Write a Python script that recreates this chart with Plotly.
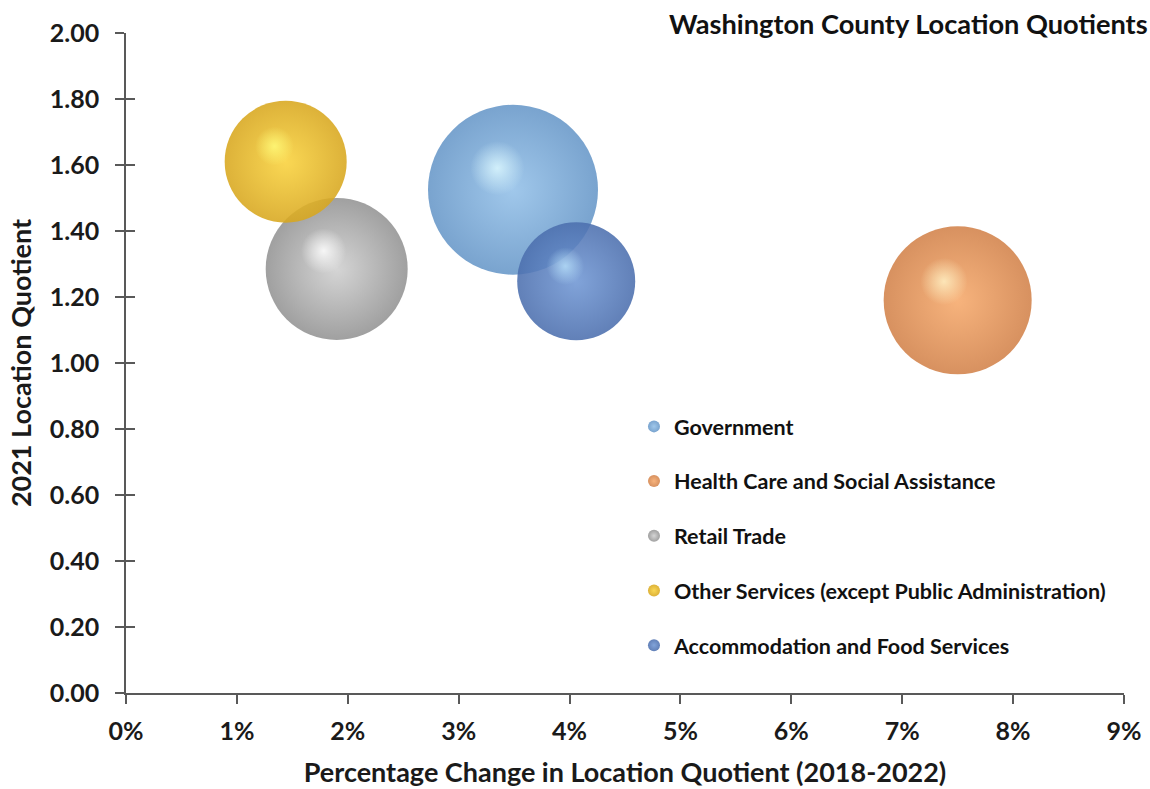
import plotly.graph_objects as go

industries = ["Government", "Health Care and Social Assistance", "Retail Trade",
              "Other Services (except Public Administration)", "Accommodation and Food Services"]
pct_change = [0.0349, 0.0750, 0.0190, 0.0144, 0.0406]
lq_2021 = [1.525, 1.19, 1.285, 1.61, 1.248]
bubble_size = [7225, 5476, 5041, 3721, 3481]

base_colors = ["#93c0e8", "#f6a96b", "#cfcfcf", "#f9d23c", "#7097d4"]
edge_colors = ["#6797c8", "#d2824a", "#939393", "#d8a71e", "#4c6fae"]
highlight_rgb = ["220,248,255", "255,240,195", "255,255,255", "255,250,120", "180,220,248"]

y_ticks = [0, 0.2, 0.4, 0.6, 0.8, 1.0, 1.2, 1.4, 1.6, 1.8, 2.0]
x_ticks = [0, 0.01, 0.02, 0.03, 0.04, 0.05, 0.06, 0.07, 0.08, 0.09]
x_range = [0, 0.09]
y_range = [0, 2.0]

FONT = "Lato"
W, H = 1150, 789
M = dict(l=126, r=26, t=33, b=96)
plot_w = W - M["l"] - M["r"]
plot_h = H - M["t"] - M["b"]
px_per_x = plot_w / (x_range[1] - x_range[0])
px_per_y = plot_h / (y_range[1] - y_range[0])

max_diam = 170
sizeref = 2.0 * max(bubble_size) / (max_diam ** 2)

fig = go.Figure()
for i, name in enumerate(industries):
    diam = (bubble_size[i] / sizeref) ** 0.5
    # base ball
    fig.add_trace(go.Scatter(
        x=[pct_change[i]], y=[lq_2021[i]], mode="markers", name="<b>" + name + "</b>",
        legendgroup=name,
        marker=dict(size=[bubble_size[i]], sizemode="area", sizeref=sizeref,
                    color=edge_colors[i], opacity=0.88,
                    gradient=dict(type="radial", color=base_colors[i]),
                    line=dict(width=0)),
    ))
    # specular highlight (offset up-left, derived from bubble diameter)
    hx = pct_change[i] - 0.13 * diam / px_per_x
    hy = lq_2021[i] + 0.18 * diam / px_per_y
    fig.add_trace(go.Scatter(
        x=[hx], y=[hy], mode="markers", showlegend=False, hoverinfo="skip",
        legendgroup=name,
        marker=dict(size=diam * 0.45, sizemode="diameter",
                    color="rgba(%s,0)" % highlight_rgb[i],
                    gradient=dict(type="radial", color="rgba(%s,0.85)" % highlight_rgb[i]),
                    line=dict(width=0)),
    ))

# inside half of crossing y ticks
fig.add_trace(go.Scatter(x=[None], y=[None], yaxis="y2", showlegend=False, hoverinfo="skip"))

axis_font = dict(family=FONT, size=25, color="#1a1a1a", weight="bold")
fig.update_layout(
    width=W, height=H,
    paper_bgcolor="white", plot_bgcolor="white",
    margin=dict(M, autoexpand=False),
    font=dict(family=FONT, color="#1a1a1a"),
    title=dict(text="<b>Washington County Location Quotients</b>",
               x=0.998, xanchor="right", y=0.969, yanchor="middle",
               font=dict(family=FONT, size=27.2, color="#111")),
    xaxis=dict(range=x_range, tickvals=x_ticks, tickformat=".0%", automargin=False,
               showgrid=False, zeroline=False, showline=True, linecolor="#595959", linewidth=1.5,
               ticks="outside", ticklen=9, tickcolor="#595959", tickwidth=1.5,
               tickfont=axis_font, ticklabelstandoff=6,
               title=dict(text="<b>Percentage Change in Location Quotient (2018-2022)</b>",
                          font=dict(family=FONT, size=27), standoff=19)),
    yaxis=dict(range=y_range, tickvals=y_ticks, tickformat=".2f", automargin=False,
               showgrid=False, zeroline=False, showline=True, linecolor="#595959", linewidth=1.5,
               ticks="outside", ticklen=9, tickcolor="#595959", tickwidth=1.5,
               tickfont=axis_font, ticklabelstandoff=11,
               title=dict(text="<b>2021 Location Quotient</b>",
                          font=dict(family=FONT, size=27), standoff=10)),
    yaxis2=dict(range=y_range, tickvals=y_ticks, overlaying="y", side="left", automargin=False,
                showticklabels=False, showgrid=False, zeroline=False, showline=False,
                ticks="inside", ticklen=9, tickcolor="#595959", tickwidth=1.5),
    legend=dict(x=0.509, xanchor="left", y=0.435, yanchor="top",
                bgcolor="rgba(0,0,0,0)", itemsizing="constant",
                tracegroupgap=23.75, font=dict(family=FONT, size=21.5, color="#111"),
                itemwidth=30),
    showlegend=True,
)

fig.write_html("out.html", config={"displayModeBar": False},
               post_script="document.body.style.margin='0';"
                           "document.documentElement.style.overflow='hidden';")
